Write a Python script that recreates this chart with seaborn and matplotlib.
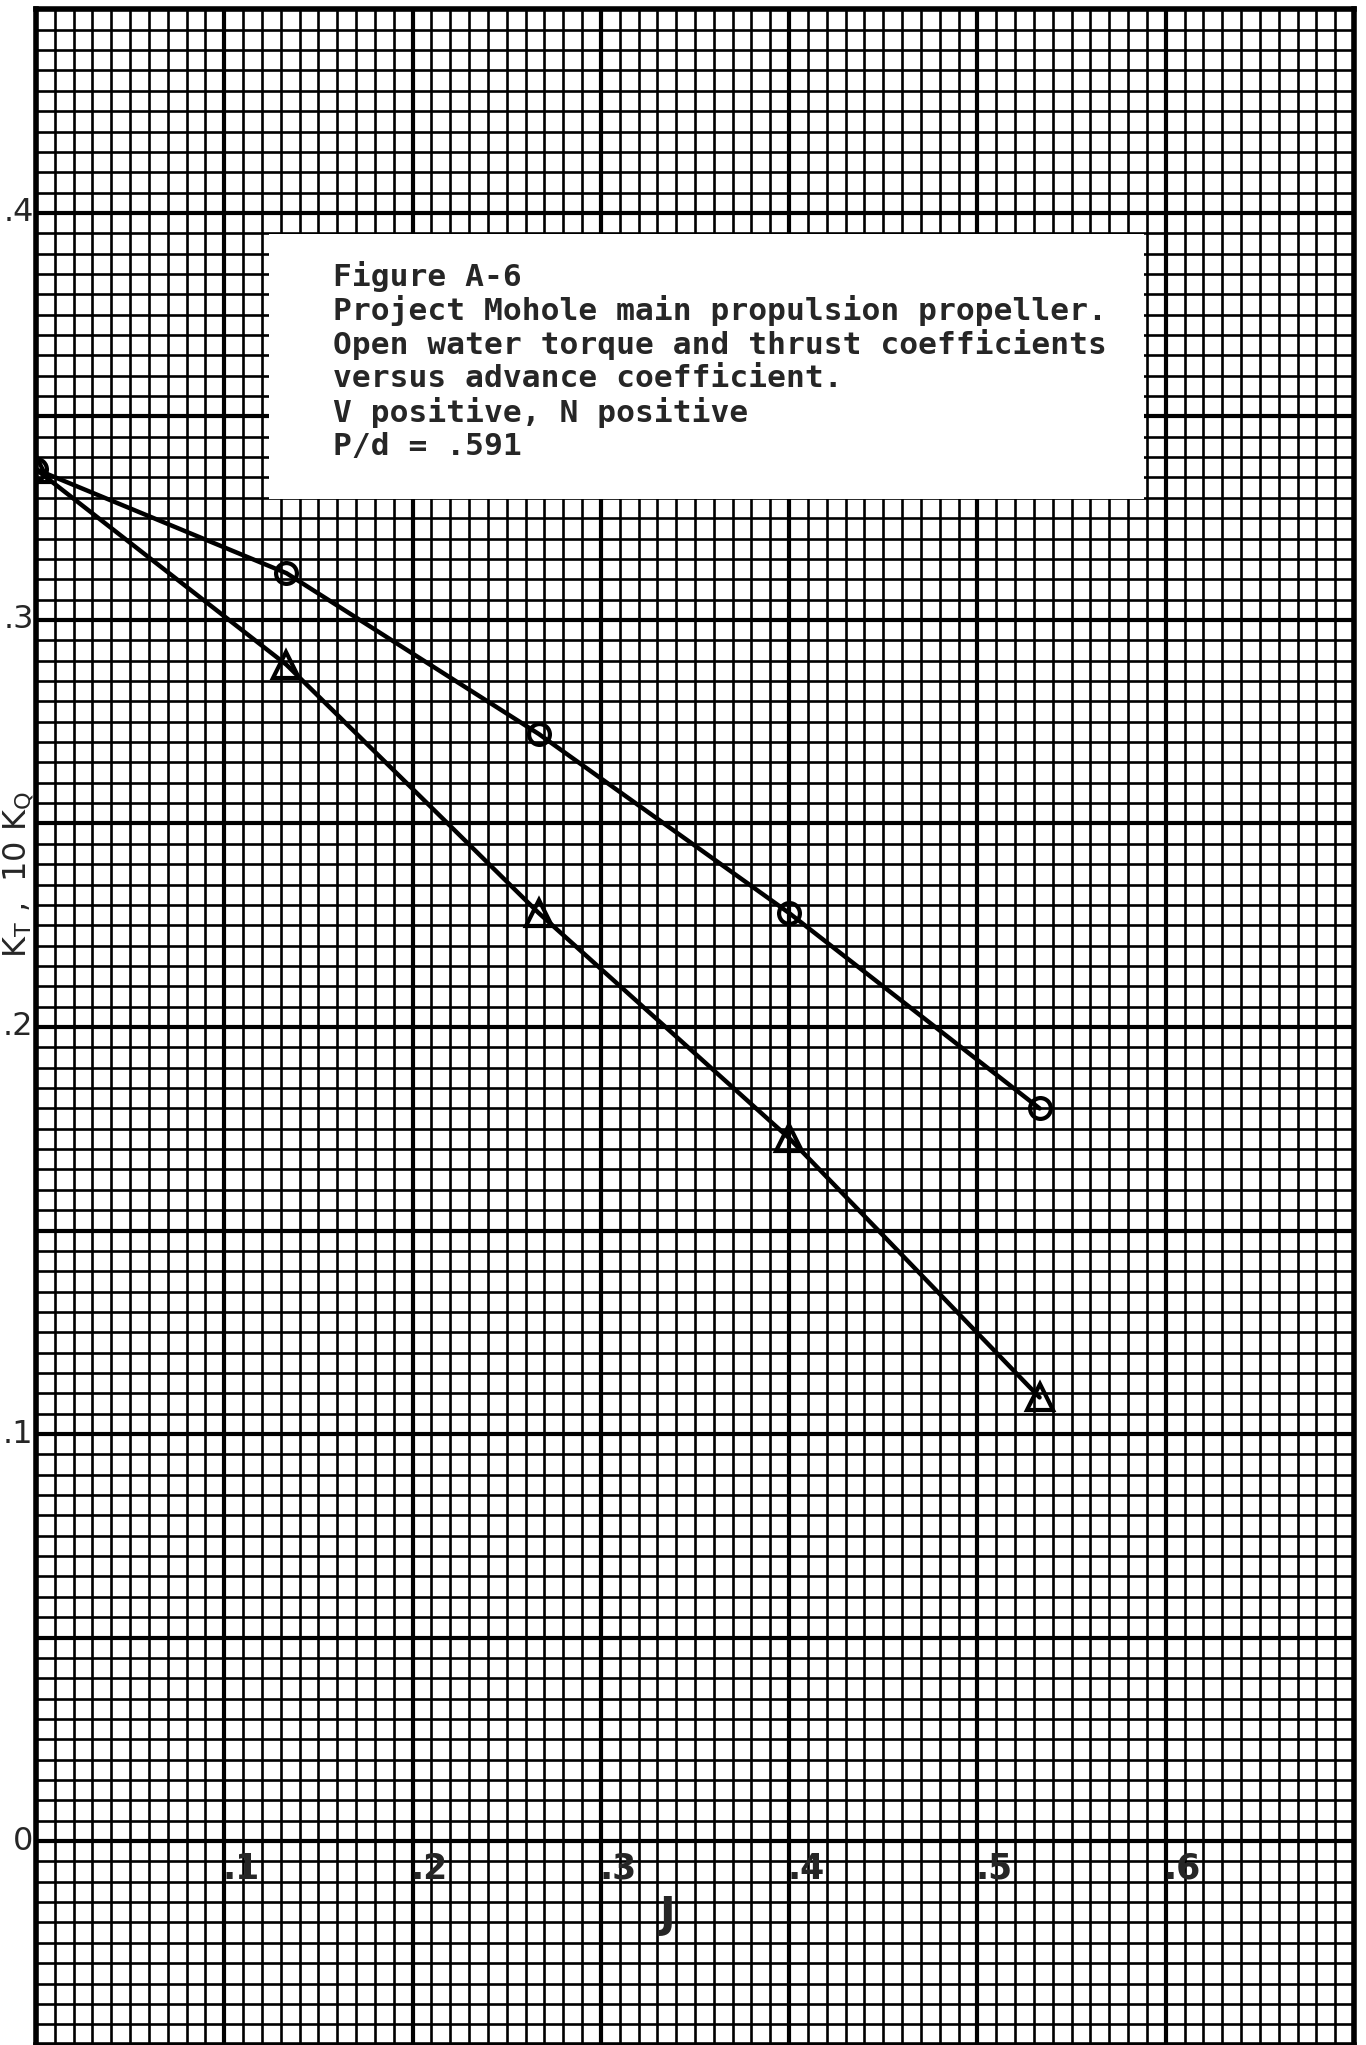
import matplotlib
matplotlib.use("Agg")
import matplotlib.pyplot as plt
from matplotlib.ticker import MultipleLocator
from matplotlib.patches import Rectangle
import pandas as pd
import seaborn as sns

# advance coefficient J at each test point
j_values = [0.0, 0.133, 0.267, 0.400, 0.533]
# torque coefficient 10*Kq (circles)
kq10_values = [0.337, 0.3115, 0.272, 0.228, 0.180]
# thrust coefficient Kt (triangles)
kt_values = [0.337, 0.289, 0.228, 0.1727, 0.109]

x_tick_values = [0.1, 0.2, 0.3, 0.4, 0.5, 0.6]
x_tick_labels = [".1", ".2", ".3", ".4", ".5", ".6"]
y_tick_values = [0.0, 0.1, 0.2, 0.3, 0.4]
y_tick_labels = ["0", ".1", ".2", ".3", ".4"]

caption_lines = [
    "Figure A-6",
    "Project Mohole main propulsion propeller.",
    "Open water torque and thrust coefficients",
    "versus advance coefficient.",
    "V positive, N positive",
    "P/d = .591",
]

df = pd.concat([
    pd.DataFrame({"J": j_values, "K": kq10_values, "series": "10KQ"}),
    pd.DataFrame({"J": j_values, "K": kt_values, "series": "KT"}),
], ignore_index=True)

sns.set_theme(style="white")
plt.rcParams["font.family"] = ["DejaVu Sans"]
plt.rcParams["mathtext.default"] = "regular"

fig = plt.figure(figsize=(13.66, 20.45), dpi=100)
fig.patch.set_facecolor("white")
ax = fig.add_axes([36 / 1366, 0.0002, 1318 / 1366, 0.9952])
ax.set_xlim(0.0, 0.7)
ax.set_ylim(-0.05, 0.45)

# graph-paper grid
ax.xaxis.set_major_locator(MultipleLocator(0.1))
ax.xaxis.set_minor_locator(MultipleLocator(0.01))
ax.yaxis.set_major_locator(MultipleLocator(0.05))
ax.yaxis.set_minor_locator(MultipleLocator(0.005))
ax.set_axisbelow(True)
ax.grid(which="major", color="black", linewidth=3.0)
ax.grid(which="minor", color="black", linewidth=1.9)
ax.tick_params(which="both", length=0, labelbottom=False, labelleft=False)
for sp in ax.spines.values():
    sp.set_color("black")
    sp.set_linewidth(4.0)

# pasted caption label
ax.add_patch(Rectangle((0.1235, 0.3298), 0.5885 - 0.1235, 0.3948 - 0.3298,
                       facecolor="white", edgecolor="none", zorder=1.5))
for i, line in enumerate(caption_lines):
    ax.text(0.158, 0.3843 - i * 0.00835, line, fontsize=22.5,
            family="DejaVu Sans Mono", fontweight="bold",
            ha="left", va="center", zorder=3)

# coefficient curves
sns.lineplot(data=df, x="J", y="K", hue="series", style="series",
             palette={"10KQ": "black", "KT": "black"},
             markers={"10KQ": "o", "KT": "^"}, dashes=False,
             sort=False, legend=False, ax=ax,
             linewidth=3.2, markersize=15, markerfacecolor="none",
             markeredgecolor="black", markeredgewidth=3.0, zorder=4)
for ln in ax.lines:
    if ln.get_marker() == "^":
        ln.set_markersize(19)
ax.set_xlabel("")
ax.set_ylabel("")

# hand-lettered scale labels
for v, lab in zip(y_tick_values, y_tick_labels):
    ax.text(-0.0012, v, lab, fontsize=23, ha="right", va="center",
            clip_on=False, zorder=5)
for v, lab in zip(x_tick_values, x_tick_labels):
    ax.text(v + 0.009, -0.0068, lab, fontsize=25, fontweight="bold",
            ha="center", va="center", zorder=5)
ax.text(0.3353, -0.0182, "J", fontsize=30, fontweight="bold",
        ha="center", va="center", zorder=5)
ax.text(-0.0092, 0.2376, r"K$_T$ ,  10 K$_Q$", fontsize=23, rotation=90,
        ha="center", va="center", clip_on=False, zorder=5)

fig.savefig("out.png", dpi=100, facecolor="white")
